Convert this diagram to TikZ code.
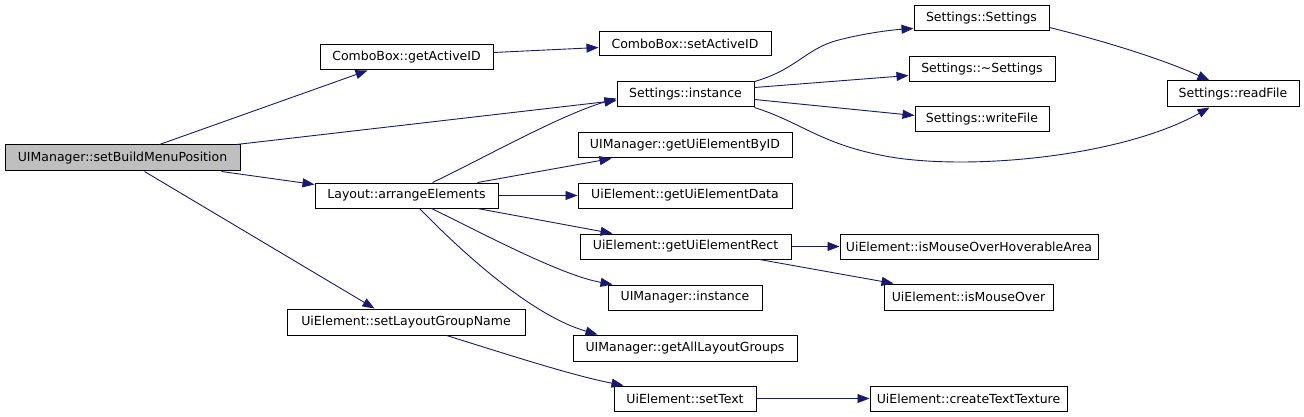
\documentclass[tikz,border=0pt]{standalone}
\usepackage{fontspec}
\setmainfont{DejaVu Sans}
\usetikzlibrary{arrows.meta,calc}
\definecolor{edgec}{RGB}{25,25,112}
\definecolor{curfill}{RGB}{191,191,191}
\begin{document}
\begin{tikzpicture}[x=1pt,y=-1pt,
  fn/.style={draw=black,line width=1pt,fill=white,inner sep=0pt,minimum height=25pt,font=\fontsize{12.5}{15}\selectfont},
  cur/.style={fn,fill=curfill},
  call/.style={draw=edgec,line width=0.9pt,-{Triangle[length=12pt,width=9pt,fill=edgec]}}]
\useasboundingbox[fill=white] (0,0) rectangle (1304,417);
% nodes
\node[cur,minimum width=235pt,minimum height=26pt] (sbmp) at (122.5,158) {UIManager::setBuildMenuPosition};
\node[fn,minimum width=173pt] (cgA) at (406.5,57.5) {ComboBox::getActiveID};
\node[fn,minimum width=172pt,minimum height=24pt] (cSA) at (685,44) {ComboBox::setActiveID};
\node[fn,minimum width=137pt] (sI) at (685.5,94.5) {Settings::instance};
\node[fn,minimum width=214pt] (gBID) at (685,145.5) {UIManager::getUiElementByID};
\node[fn,minimum width=183pt] (lay) at (406.5,195.5) {Layout::arrangeElements};
\node[fn,minimum width=214pt] (gData) at (685,195.5) {UiElement::getUiElementData};
\node[fn,minimum width=135pt] (sS) at (981.5,18.5) {Settings::Settings};
\node[fn,minimum width=146pt] (sD) at (982,69.5) {Settings::\textasciitilde Settings};
\node[fn,minimum width=134pt] (sW) at (982,119.5) {Settings::writeFile};
\node[fn,minimum width=132pt,minimum height=26pt] (sR) at (1233,94) {Settings::readFile};
\node[fn,minimum width=211pt] (gRect) at (685.5,246.5) {UiElement::getUiElementRect};
\node[fn,minimum width=154pt] (umI) at (685,297.5) {UIManager::instance};
\node[fn,minimum width=238pt,minimum height=26pt] (sLGN) at (406,322) {UiElement::setLayoutGroupName};
\node[fn,minimum width=224pt,minimum height=26pt] (gALG) at (685,348) {UIManager::getAllLayoutGroups};
\node[fn,minimum width=142pt] (sT) at (685,398.5) {UiElement::setText};
\node[fn,minimum width=258pt] (hov) at (969,246.5) {UiElement::isMouseOverHoverableArea};
\node[fn,minimum width=169pt,minimum height=26pt] (mo) at (968.5,297) {UiElement::isMouseOver};
\node[fn,minimum width=197pt] (ctt) at (968.5,398.5) {UiElement::createTextTexture};
% edges
\draw[call] ($(sbmp.north west)+(155,0)$) -- ($(cgA.south west)+(48,0)$);
\draw[call] ($(sbmp.north west)+(232,0)$) -- ($(sI.north west)+(0,19)$);
\draw[call] ($(sbmp.south west)+(217,0)$) -- ($(lay.north west)+(0,2)$);
\draw[call] ($(sbmp.south west)+(140,0)$) -- ($(sLGN.north west)+(88,0)$);
\draw[call] ($(cgA.north east)+(0,8)$) -- ($(cSA.north west)+(0,16)$);
\draw[call] ($(lay.north west)+(118,0)$) .. controls (480,160) and (560,115) .. ($(sI.north west)+(0,17)$);
\draw[call] ($(lay.north west)+(163,0)$) -- ($(gBID.south west)+(34,0)$);
\draw[call] (lay.east) -- (gData.west);
\draw[call] ($(lay.south west)+(163,0)$) -- ($(gRect.north west)+(33,0)$);
\draw[call] ($(lay.south west)+(117,0)$) .. controls (480,232) and (560,275) .. ($(umI.north west)+(5,0)$);
\draw[call] ($(lay.south west)+(105,0)$) .. controls (460,250) and (530,315) .. ($(gALG.north west)+(25,0)$);
\draw[call] ($(sLGN.south west)+(160,0)$) .. controls (500,352) and (570,375) .. ($(sT.north west)+(10,0)$);
\draw[call] (sT.east) -- (ctt.west);
\draw[call] (gRect.east) -- (hov.west);
\draw[call] ($(gRect.south west)+(180,0)$) -- ($(mo.north west)+(10,0)$);
\draw[call] (sI.north east) .. controls (795,70) and (805,50) .. (835,41) .. controls (860,34) and (890,30) .. ($(sS.south west)+(0,-3)$);
\draw[call] ($(sI.north east)+(0,6)$) -- ($(sD.north west)+(0,19)$);
\draw[call] ($(sI.north east)+(0,18)$) -- ($(sW.north west)+(0,9)$);
\draw[call] (sI.south east) .. controls (800,122) and (820,143) .. (880,155) .. controls (960,172) and (1120,158) .. ($(sR.south west)+(43,0)$);
\draw[call] ($(sS.north east)+(0,22)$) .. controls (1100,40) and (1160,58) .. ($(sR.north west)+(43,0)$);
\end{tikzpicture}
\end{document}
